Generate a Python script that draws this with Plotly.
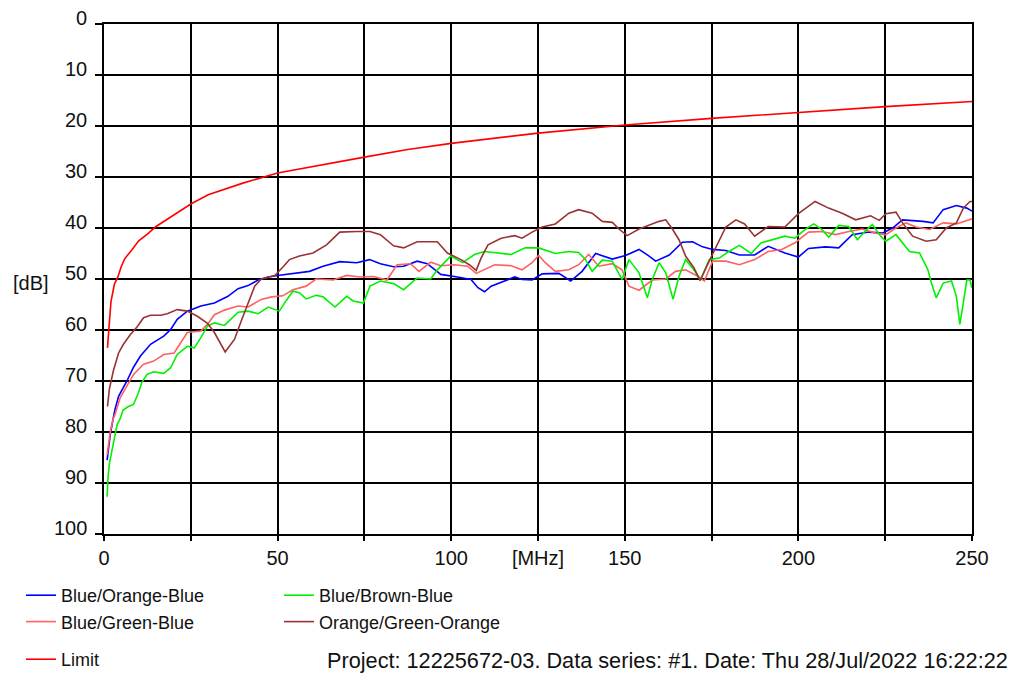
import plotly.graph_objects as go

# Frequency axis in MHz, attenuation in dB (axis drawn with 0 at the top)
limit_f = [1, 1.5, 2, 3, 4, 5, 6, 8, 10, 12.5, 15, 20, 25, 30, 40, 50, 62.5, 75,
           87.5, 100, 125, 150, 175, 200, 225, 250]
limit_db = [63.5, 58, 54.5, 51, 49.6, 47.5, 46, 44.3, 42.5, 41.2, 39.7, 37.5, 35.3,
            33.5, 31.2, 29.2, 27.6, 26.1, 24.6, 23.4, 21.4, 19.8, 18.5, 17.3, 16.2, 15.2]

bob_f = [0.9, 1.3, 1.8, 2.6, 3.2, 4.2, 5.2, 6.6, 8.5, 10.5, 13.4, 17.2, 19.2, 21.1, 24,
         27.9, 31.8, 35.7, 38.6, 41.5, 44.4, 47.3, 50, 54.4, 59.2, 63.1, 67.9, 72.8,
         76.5, 79.6, 83.4, 86.3, 90.2, 93.1, 97, 101.8, 105.7, 107.7, 109.6, 111.5,
         114.4, 118.3, 120.4, 123.3, 126.2, 131, 134.4, 137.7, 141.6, 146.4, 150.2,
         154.1, 157, 158.9, 162.8, 166.6, 169.5, 172.4, 175.3, 179.1, 183, 187.4,
         191.3, 196.1, 200, 202.9, 207.8, 211.6, 215.5, 220.3, 224.2, 227.1, 230,
         235.9, 238.8, 241.7, 245.5, 248.5, 250]
bob_db = [85.5, 83, 80.5, 77.5, 75.5, 73, 71.8, 70, 67.3, 65.1, 62.8, 61.2, 59.9, 57.9,
          56.3, 55.3, 54.7, 53.4, 51.9, 51.3, 50.2, 49.6, 49.3, 48.9, 48.5, 47.5, 46.6,
          46.8, 46.2, 47.0, 47.6, 47.5, 46.5, 47.0, 49.1, 49.6, 50.1, 51.7, 52.5, 51.4,
          50.6, 49.6, 50.1, 50.2, 49.0, 48.9, 50.4, 48.5, 45.0, 46.1, 45.4, 44.2, 45.5,
          46.5, 45.3, 42.8, 42.7, 43.7, 44.2, 44.4, 45.3, 45.3, 43.6, 44.9, 45.7, 44.0,
          43.7, 43.9, 41.3, 40.8, 41.0, 40.0, 38.4, 38.7, 39.0, 36.4, 35.6, 36.1, 36.7]

bgb_f = [0.9, 1.3, 1.8, 2.6, 3.2, 4.65, 6.6, 8.5, 11.4, 14.3, 17.2, 20.2, 22.1, 24,
         27.9, 29.8, 31.8, 34.7, 38.6, 41.5, 45.3, 48.3, 51.5, 54.4, 58.2, 61.1, 66,
         69.9, 73.7, 77.6, 81.5, 84.4, 88.3, 90.7, 94.1, 97, 100.9, 104.7, 107.2, 109.6,
         112.5, 117.3, 120.4, 123.3, 125.2, 127.1, 130, 133.9, 136.7, 139.6, 142.5,
         146.4, 149.2, 151.2, 154.1, 157.9, 161.8, 164.6, 167.5, 171.4, 172.9, 175.3,
         179.1, 183, 187.4, 191.3, 195.2, 199, 202.9, 206.8, 210.7, 214.5, 218.4, 222.3,
         225.2, 228.1, 231, 233.9, 237.8, 241.7, 245.5, 250]
bgb_db = [84.5, 82.5, 80, 77.5, 76.5, 73.3, 71, 68.7, 66.7, 66.1, 64.8, 64.5, 62.5, 60.5,
          60.2, 58.9, 57.0, 56.1, 55.3, 55.5, 54.0, 53.5, 53.3, 52.1, 51.4, 50.0, 50.2,
          49.3, 49.6, 49.5, 50.2, 47.2, 47.0, 48.5, 46.7, 47.4, 47.2, 47.5, 48.9, 48.2,
          47.2, 47.4, 48.2, 46.8, 45.4, 46.8, 48.5, 48.2, 47.2, 45.2, 47.5, 47.0, 48.2,
          51.4, 52.2, 50.2, 50.0, 48.5, 48.2, 49.6, 50.4, 46.5, 46.5, 47.2, 46.2, 44.6,
          44.2, 42.9, 40.8, 40.7, 41.3, 40.7, 40.2, 41.0, 41.3, 40.0, 39.0, 39.8, 40.3,
          39.0, 39.2, 38.2]

bbb_f = [0.9, 1.2, 1.6, 2.0, 2.6, 3.2, 3.8, 4.6, 5.5, 7, 8.5, 9.8, 10.9, 12.4, 14.3,
         17.2, 19.2, 21.1, 24, 26, 27.9, 29.8, 31.8, 34.7, 38.6, 41.5, 44.4, 47.3, 50.5,
         52.4, 54.4, 56.3, 58.2, 61.1, 63.1, 66.5, 69.9, 71.8, 74.7, 76.6, 79.6, 83.4,
         86.3, 90.2, 94.1, 96, 99.9, 103.3, 106.7, 109.6, 114.4, 117.3, 121.3, 125.2,
         130, 133.9, 136.7, 138.7, 140.6, 143.5, 146.4, 149.2, 151.2, 154.1, 156.5,
         157.9, 159.9, 161.8, 163.9, 165.6, 167.5, 169.9, 171.8, 174.3, 177.2, 180, 183,
         186.4, 189.3, 193.2, 196.1, 199, 201.9, 204.4, 206.8, 208.7, 211.6, 214.5, 217,
         219.4, 221.3, 223.7, 225.2, 228.1, 230, 232, 234.9, 237.3, 238.3, 239.7, 241.7,
         244.1, 245.5, 246.5, 247.5, 248.5, 249.4, 250]
bbb_db = [92.7, 88.5, 86, 84.5, 82.5, 80.5, 78.5, 77.5, 75.7, 75, 74.6, 72.5, 70.3, 68.7,
          68.2, 68.5, 67.4, 64.8, 63.2, 63.5, 61.5, 59.2, 58.6, 59.1, 56.5, 56.3, 56.8,
          55.5, 56.3, 54.3, 52.4, 52.7, 53.9, 53.2, 53.5, 55.5, 53.4, 54.3, 54.7, 51.4,
          50.4, 50.9, 52.1, 49.8, 50.0, 48.2, 45.5, 46.8, 45.2, 44.6, 44.9, 45.2, 43.9,
          43.9, 45.0, 44.6, 44.8, 46.2, 48.5, 46.3, 46.5, 50.1, 46.2, 48.8, 53.7, 50.1,
          46.8, 48.8, 54.0, 49.5, 46.2, 48.2, 50.2, 46.2, 45.9, 44.6, 43.4, 45.0, 42.9,
          42.2, 41.6, 42.0, 40.3, 39.2, 40.3, 41.8, 39.5, 39.7, 42.3, 40.5, 39.3, 41.6,
          42.6, 41.3, 42.9, 44.6, 44.9, 48.2, 50.8, 53.7, 50.8, 50.4, 53.4, 58.9, 54.7,
          50.2, 50.2, 51.7]

ogo_f = [1.0, 1.55, 2.7, 4.2, 5.6, 7.6, 9.5, 11.4, 13.4, 16.3, 18.2, 21.1, 24, 26.9,
         29.8, 31.8, 34.9, 37.6, 39.5, 42, 43.4, 45.3, 49.2, 51.6, 53.4, 56.3, 60.2, 64.1,
         67.9, 72.8, 76.6, 79.6, 83.4, 86.3, 90.2, 96, 98.9, 102.8, 105.2, 107.2, 108.6,
         110.6, 114.4, 118.3, 120.4, 123.3, 126.2, 130, 133.9, 136.7, 140.6, 143.5, 146.4,
         148.3, 150.7, 154.1, 157, 159.9, 161.8, 163.7, 165.6, 167.5, 169.9, 171.7, 174.3,
         176.2, 179.1, 182, 184.5, 187.4, 191.3, 196.1, 200, 204.8, 208.7, 212.6, 216.5,
         220.8, 223.3, 225.2, 228.1, 230, 232.9, 236.8, 239.7, 242.6, 245.5, 247.5, 249.4,
         250]
ogo_db = [75, 71.6, 68, 64.5, 62.8, 60.9, 59.4, 57.6, 57.1, 57.1, 56.8, 56.0, 56.3, 57.3,
          58.7, 60.5, 64.3, 61.8, 58.3, 54.0, 51.4, 50.0, 49.3, 47.6, 46.2, 45.5, 44.9,
          43.3, 40.8, 40.7, 40.7, 41.3, 43.5, 43.9, 42.7, 42.7, 44.9, 46.2, 47.2, 48.3,
          45.9, 43.3, 42.0, 41.5, 42.0, 40.8, 39.8, 39.2, 37.1, 36.4, 37.1, 38.7, 38.9,
          40.2, 41.5, 40.2, 39.5, 38.7, 38.4, 40.2, 42.3, 45.5, 47.8, 50.3, 46.5, 43.9,
          39.8, 38.4, 39.2, 41.6, 39.7, 39.8, 37.2, 34.8, 36.1, 37.1, 38.4, 37.6, 38.5,
          37.2, 36.9, 39.0, 41.6, 42.6, 42.3, 40.0, 39.0, 36.1, 34.8, 34.8]

x_ticks = [0, 25, 50, 75, 100, 125, 150, 175, 200, 225, 250]
x_labels = ["0", "", "50", "", "100", "[MHz]", "150", "", "200", "", "250"]
y_ticks = list(range(0, 101, 10))
y_labels = [str(v) for v in y_ticks]

FONT = "Liberation Sans, Arial, sans-serif"
INK = "#111111"

series = [
    ("Blue/Orange-Blue", bob_f, bob_db, "#0000ff", "legend"),
    ("Blue/Green-Blue", bgb_f, bgb_db, "#ff6060", "legend"),
    ("Blue/Brown-Blue", bbb_f, bbb_db, "#00f000", "legend2"),
    ("Orange/Green-Orange", ogo_f, ogo_db, "#993333", "legend2"),
    ("Limit", limit_f, limit_db, "#ff0000", "legend3"),
]

fig = go.Figure()
for name, f, db, color, leg in series:
    fig.add_trace(go.Scatter(x=f, y=db, mode="lines", name=name,
                             line=dict(color=color, width=1.6), legend=leg))

legend_common = dict(font=dict(family=FONT, size=18, color=INK),
                     bgcolor="rgba(0,0,0,0)", borderwidth=0,
                     xref="container", yref="container",
                     xanchor="left", yanchor="top", orientation="v",
                     itemwidth=30, tracegroupgap=0)

axis_common = dict(showgrid=True, gridcolor="black", gridwidth=1.6,
                   showline=True, mirror=True, linecolor="black", linewidth=1.6,
                   ticks="outside", tickwidth=1.6, tickcolor="black",
                   zeroline=False, tickfont=dict(family=FONT, size=20, color=INK))

# dB labels sit slightly above their grid lines, so they are placed as
# annotations on the y scale rather than as centred tick labels
y_label_notes = [
    dict(text=lab, xref="paper", yref="y", x=0, y=val, xanchor="right",
         yanchor="middle", xshift=-15, yshift=6, showarrow=False,
         font=dict(family=FONT, size=20, color=INK))
    for val, lab in zip(y_ticks, y_labels)
]

fig.update_layout(
    width=1016, height=674,
    margin=dict(l=104, r=44, t=24, b=140, autoexpand=False),
    paper_bgcolor="white", plot_bgcolor="white",
    font=dict(family=FONT, size=18, color=INK),
    xaxis=dict(range=[0, 250], tickvals=x_ticks, ticktext=x_labels,
               ticklen=5, ticklabelstandoff=0, **axis_common),
    yaxis=dict(range=[100, 0], tickvals=y_ticks, showticklabels=False,
               ticklen=7, **axis_common),
    legend=dict(x=21 / 1016, y=1 - 577 / 674, **legend_common),
    legend2=dict(x=279 / 1016, y=1 - 577 / 674, **legend_common),
    legend3=dict(x=21 / 1016, y=1 - 641 / 674, **legend_common),
    annotations=y_label_notes + [
        dict(text="[dB]", xref="paper", yref="paper",
             x=(31 - 104) / 868, y=(534 - 283) / 510,
             showarrow=False, xanchor="center", yanchor="middle",
             font=dict(family=FONT, size=20, color=INK)),
        dict(text="Project: 12225672-03. Data series: #1. Date: Thu 28/Jul/2022 16:22:22",
             xref="paper", yref="paper",
             x=(1010 - 104) / 868, y=(534 - 660) / 510,
             showarrow=False, xanchor="right", yanchor="middle",
             font=dict(family=FONT, size=21.7, color=INK)),
    ],
)

fig.write_html("out.html")
